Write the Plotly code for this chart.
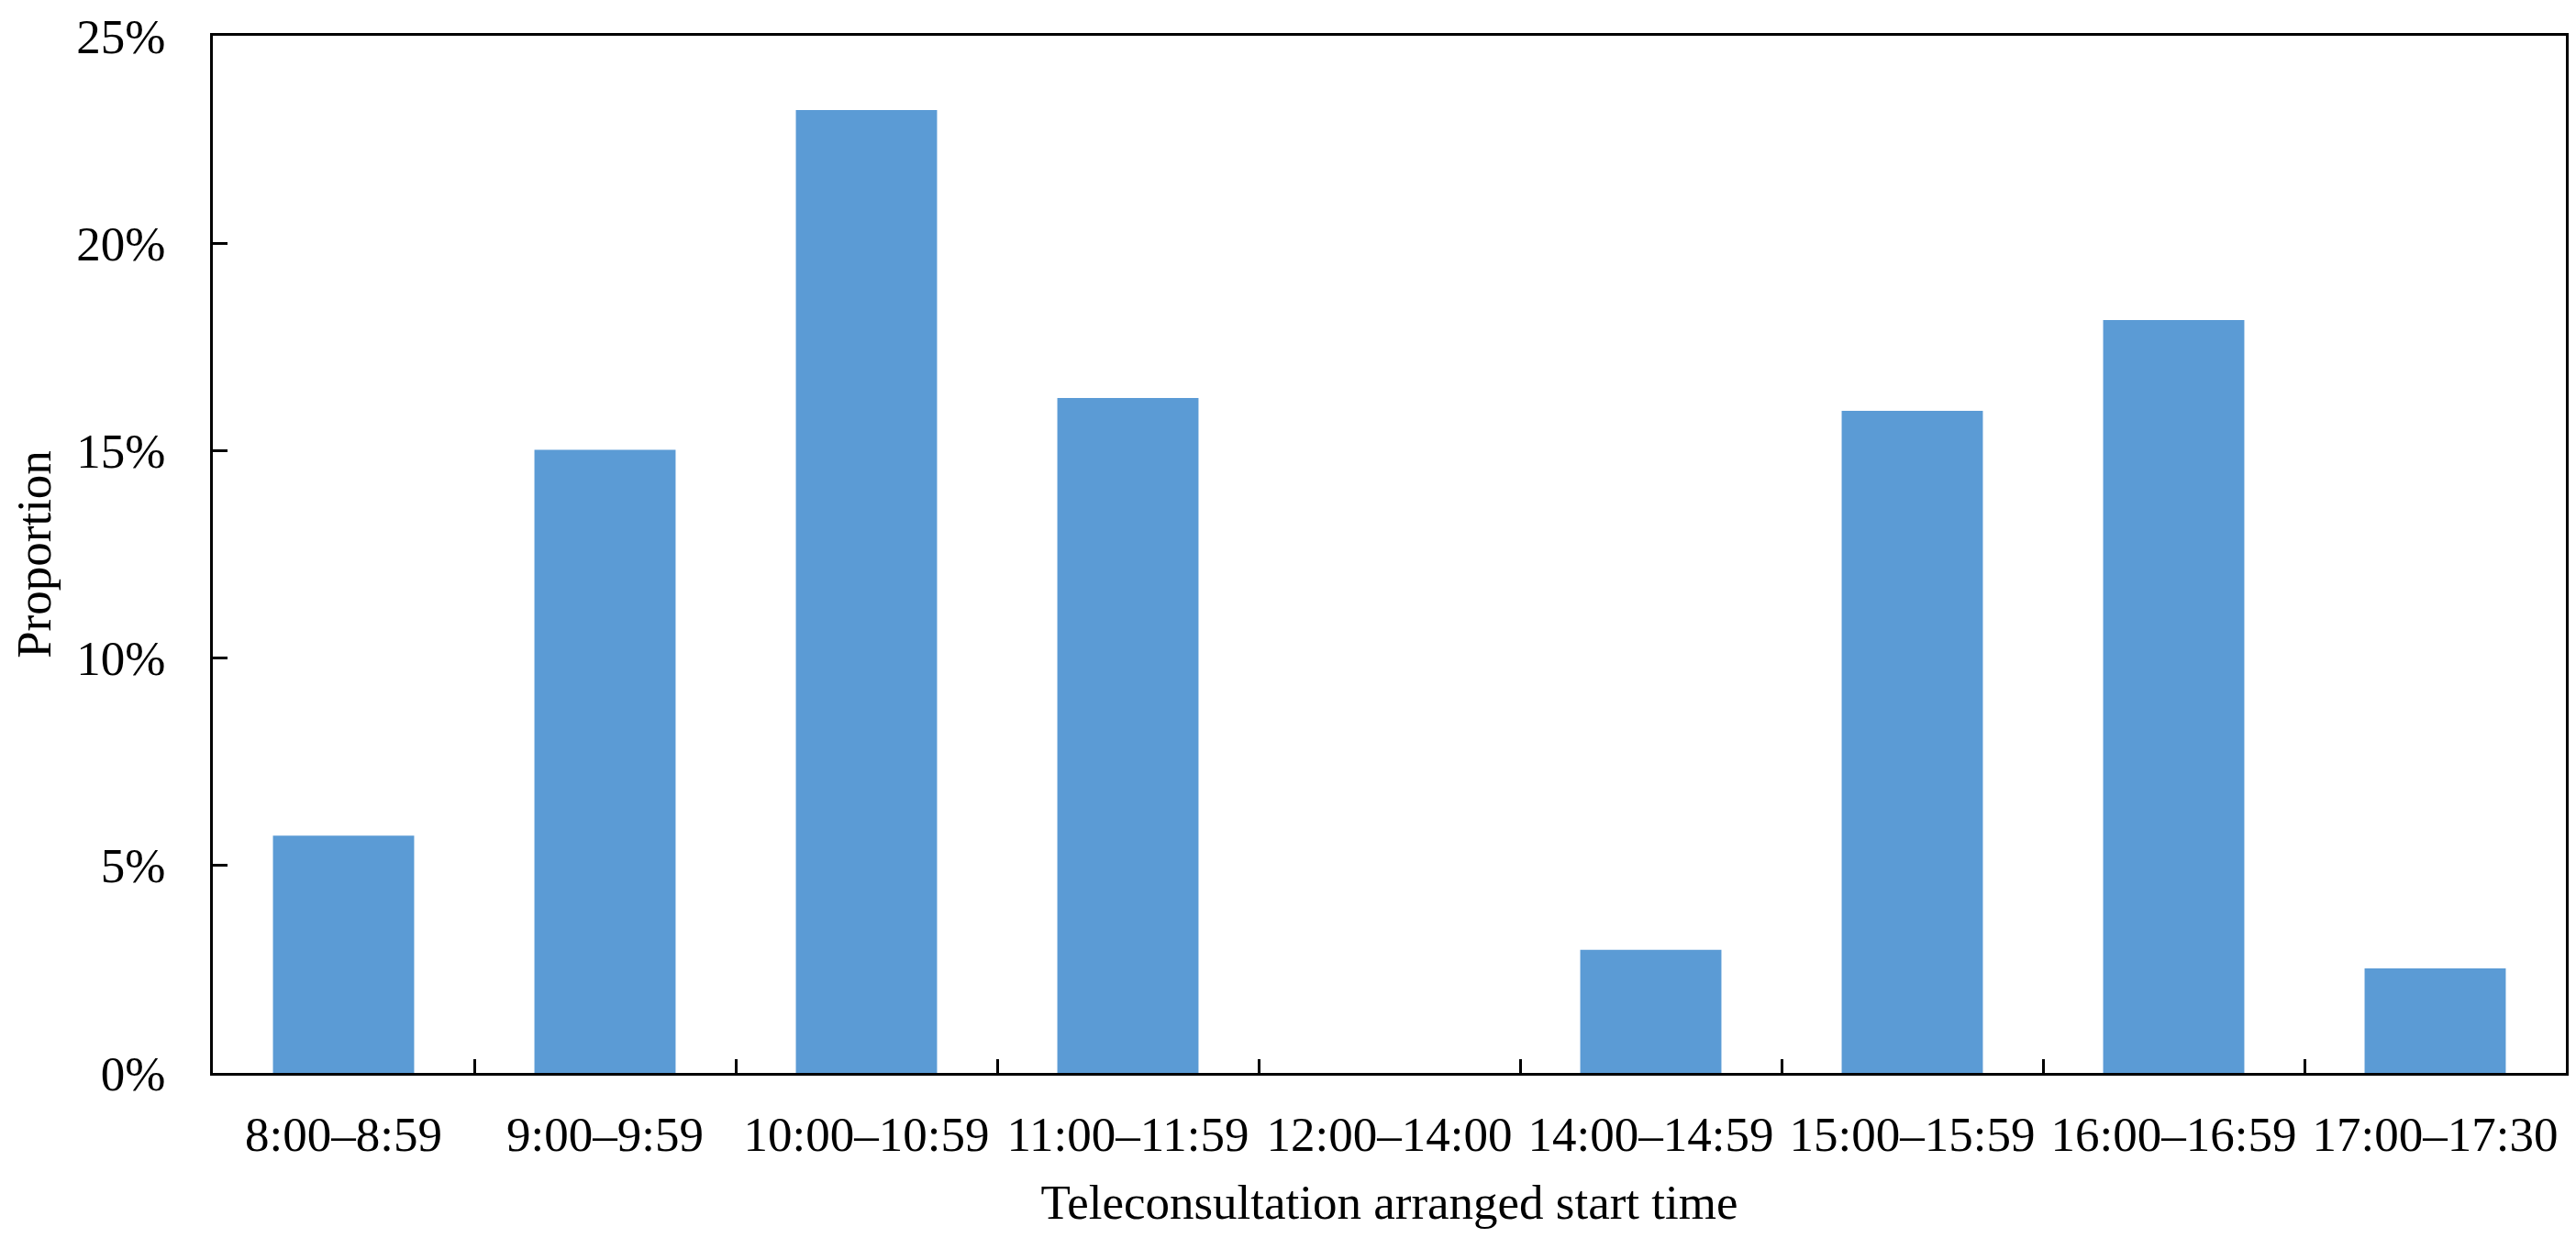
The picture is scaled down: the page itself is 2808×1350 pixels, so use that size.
import plotly.graph_objects as go

categories = ["8:00–8:59", "9:00–9:59", "10:00–10:59", "11:00–11:59", "12:00–14:00",
              "14:00–14:59", "15:00–15:59", "16:00–16:59", "17:00–17:30"]
proportions = [5.72, 15.02, 23.21, 16.27, 0.0, 2.97, 15.96, 18.15, 2.52]
y_ticks = [0, 5, 10, 15, 20, 25]

FONT = "Liberation Serif, Times New Roman, serif"

fig = go.Figure()
fig.add_trace(go.Bar(
    x=categories,
    y=proportions,
    marker=dict(color="#5B9BD5", line=dict(width=0)),
    showlegend=False,
))

fig.update_layout(
    width=2808,
    height=1350,
    margin=dict(l=224, r=19, t=31, b=188),
    paper_bgcolor="white",
    plot_bgcolor="white",
    bargap=0.46,
    font=dict(family=FONT, size=53, color="black"),
)

fig.update_xaxes(
    type="category",
    automargin=False,
    showline=True,
    linecolor="black",
    linewidth=3,
    mirror=True,
    ticks="inside",
    tickson="boundaries",
    ticklen=15,
    tickwidth=2.5,
    tickcolor="black",
    showgrid=False,
    zeroline=False,
    tickfont=dict(family=FONT, size=53, color="black"),
    ticklabelstandoff=18,
    ticklabeloverflow="allow",
    title=dict(text="Teleconsultation arranged start time",
               font=dict(family=FONT, size=53, color="black"), standoff=28),
)

fig.update_yaxes(
    range=[0, 25],
    automargin=False,
    tickvals=y_ticks,
    ticktext=[f"{v}%" for v in y_ticks],
    showline=True,
    linecolor="black",
    linewidth=3,
    mirror=True,
    ticks="inside",
    ticklen=16,
    tickwidth=2.5,
    tickcolor="black",
    showgrid=False,
    zeroline=False,
    tickfont=dict(family=FONT, size=53, color="black"),
    ticklabelstandoff=38,
    ticklabeloverflow="allow",
    title=dict(text="Proportion", font=dict(family=FONT, size=53, color="black"), standoff=24),
)

fig.write_html("out.html")
